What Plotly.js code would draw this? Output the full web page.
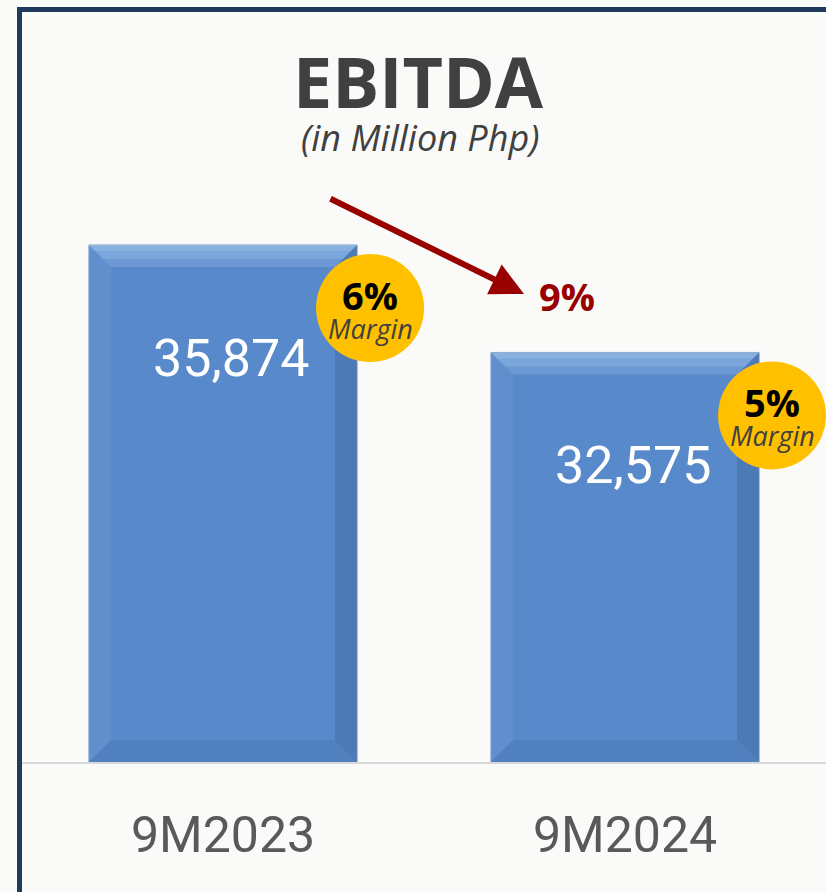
<!DOCTYPE html>
<html>
<head>
<meta charset="utf-8">
<script src="https://cdn.plot.ly/plotly-3.0.1.min.js"></script>
<style>
  html, body { margin:0; padding:0; background:#fafaf9; }
  #chart { width:826px; height:892px; }
</style>
</head>
<body>
<div id="chart"></div>
<script>
// ---- data ----
const categories = ['9M2023', '9M2024'];
const ebitda = [35874, 32575];
const marginPct = ['6%', '5%'];
const chartTitle = 'EBITDA';
const chartSubtitle = '(in Million Php)';
const marginWord = 'Margin';

// ---- layout constants ----
const W = 826, H = 892;
const M = {l:22, r:0, t:100, b:130};
const plotW = W - M.l - M.r, plotH = H - M.t - M.b;
const yMin = 20000, yMax = 40326;
const barWidth = 0.667;
const pxX = 2 / plotW;                 // category units per pixel
const pxY = (yMax - yMin) / plotH;     // value units per pixel
const px2paperX = p => (p - M.l) / plotW;
const px2paperY = p => (H - M.b - p) / plotH;

const x = categories.map((c, i) => i);

const shapes = [];
// frame
shapes.push({type:'rect', xref:'paper', yref:'paper', layer:'above',
  x0:px2paperX(19.5), x1:px2paperX(840), y0:px2paperY(9.5), y1:px2paperY(910),
  line:{color:'#1f3a5a', width:5}, fillcolor:'rgba(0,0,0,0)'});

// bevel faces computed from the data
const bev = 22;
ebitda.forEach((v, i) => {
  const xl = x[i] - barWidth/2, xr = x[i] + barWidth/2;
  const bx = bev * pxX, by = bev * pxY;
  const poly = pts => 'M' + pts.map(p => p[0] + ',' + p[1]).join(' L') + ' Z';
  // top face (layers to mimic gradient)
  [[22, 'rgba(190,220,255,0.20)'], [14, 'rgba(190,225,255,0.18)'], [6, 'rgba(200,230,255,0.18)']].forEach(([d, col]) => {
    const dx = d * pxX, dy = d * pxY;
    shapes.push({type:'path', xref:'x', yref:'y', layer:'above', line:{width:0},
      fillcolor: col,
      path: poly([[xl, v], [xr, v], [xr - dx, v - dy], [xl + dx, v - dy]])});
  });
  // left face
  shapes.push({type:'path', xref:'x', yref:'y', layer:'above', line:{width:0},
    fillcolor:'rgba(255,255,255,0.06)',
    path: poly([[xl, v], [xl + bx, v - by], [xl + bx, yMin + by], [xl, yMin]])});
  // right face
  shapes.push({type:'path', xref:'x', yref:'y', layer:'above', line:{width:0},
    fillcolor:'rgba(0,20,60,0.13)',
    path: poly([[xr, v], [xr - bx, v - by], [xr - bx, yMin + by], [xr, yMin]])});
  // bottom face
  shapes.push({type:'path', xref:'x', yref:'y', layer:'above', line:{width:0},
    fillcolor:'rgba(0,20,60,0.07)',
    path: poly([[xl, yMin], [xl + bx, yMin + by], [xr - bx, yMin + by], [xr, yMin]])});
  // margin circle
  shapes.push({type:'circle', xref:'x', yref:'y', layer:'above',
    xsizemode:'pixel', ysizemode:'pixel', xanchor: xr, yanchor: v,
    x0: 13 - 54, x1: 13 + 54, y0: -63 - 54, y1: -63 + 54,
    fillcolor:'#ffc000', line:{width:0}});
});

const annotations = [];
ebitda.forEach((v, i) => {
  const xr = x[i] + barWidth/2;
  annotations.push({xref:'x', yref:'y', x: x[i], y: v, xshift: 8, yshift: -113,
    text: v.toLocaleString('en-US'), showarrow:false, xanchor:'center', yanchor:'middle',
    font:{family:'Roboto', size:52, color:'#ffffff'}});
  annotations.push({xref:'x', yref:'y', x: xr, y: v, xshift: 13, yshift: -50,
    text: '<b>' + marginPct[i] + '</b>', showarrow:false, xanchor:'center', yanchor:'middle',
    font:{family:'Open Sans', size:38, color:'#000000'}});
  annotations.push({xref:'x', yref:'y', x: xr, y: v, xshift: 13, yshift: -83,
    text: '<i>' + marginWord + '</i>', showarrow:false, xanchor:'center', yanchor:'middle',
    font:{family:'Open Sans', size:27, color:'#404040'}});
});
// subtitle
annotations.push({xref:'paper', yref:'paper', x: px2paperX(420), y: px2paperY(138),
  text:'<i>' + chartSubtitle + '</i>', showarrow:false, xanchor:'center', yanchor:'middle',
  font:{family:'Open Sans', size:36, color:'#404040'}});
// change arrow
annotations.push({xref:'paper', yref:'paper', x: px2paperX(524), y: px2paperY(294),
  axref:'pixel', ayref:'pixel', ax: 329 - 524, ay: 198 - 294, text:'', showarrow:true,
  arrowcolor:'#990000', arrowwidth:6, arrowhead:2, arrowsize:1.1, standoff:0});
const change = Math.round((ebitda[0] - ebitda[1]) / ebitda[0] * 100) + '%';
annotations.push({xref:'paper', yref:'paper', x: px2paperX(567), y: px2paperY(296),
  text:'<b>' + change + '</b>', showarrow:false, xanchor:'center', yanchor:'middle',
  font:{family:'Open Sans', size:38, color:'#990000'}});

const trace = {
  type:'bar', x: x, y: ebitda, width: barWidth,
  marker:{color:'#5889ca', line:{color:'#7c9cc4', width:1}},
  hoverinfo:'skip'
};

const layout = {
  width: W, height: H,
  margin: M,
  paper_bgcolor:'#fafaf9', plot_bgcolor:'#fafaf9',
  showlegend:false,
  title:{text:'<b>' + chartTitle + '</b>', xref:'container', yref:'container',
    x: 418/W, xanchor:'center', y: 1 - 83/H, yanchor:'middle',
    font:{family:'Open Sans', size:70, color:'#404040'}},
  xaxis:{range:[-0.5, 1.5], tickvals:x, ticktext:categories, showgrid:false, zeroline:false,
    showline:true, linecolor:'#d9d9d9', linewidth:2, ticks:'', ticklabelstandoff:28,
    tickfont:{family:'Roboto', size:50, color:'#595959'}, fixedrange:true},
  yaxis:{range:[yMin, yMax], visible:false, fixedrange:true},
  shapes: shapes,
  annotations: annotations
};

Plotly.newPlot('chart', [trace], layout, {displayModeBar:false, staticPlot:true});
</script>
</body>
</html>
